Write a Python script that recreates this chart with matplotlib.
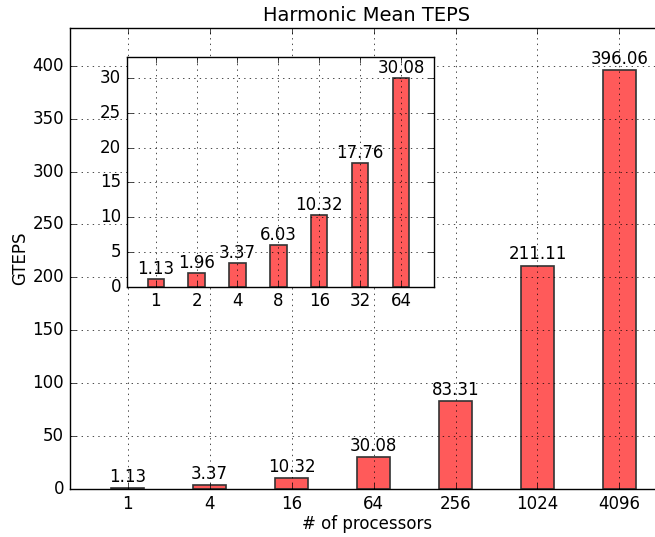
import numpy as np
import matplotlib
matplotlib.use("Agg")
import matplotlib.pyplot as plt

plt.style.use("classic")

# data
procs_main = ["1", "4", "16", "64", "256", "1024", "4096"]
teps_main = [1.13, 3.37, 10.32, 30.08, 83.31, 211.11, 396.06]

procs_inset = ["1", "2", "4", "8", "16", "32", "64"]
teps_inset = [1.13, 1.96, 3.37, 6.03, 10.32, 17.76, 30.08]

bar_color = "#ff5a5a"
edge_color = "#333333"

fig = plt.figure(figsize=(6.55, 5.37), dpi=100)
fig.patch.set_facecolor("white")

# main axes (runs a bit past the right edge, like the original)
ax = fig.add_axes([69.5 / 655, 1 - 489 / 537, 595 / 655, 461 / 537])
x = np.arange(len(teps_main))
bars = ax.bar(x, teps_main, width=0.4, align="center", color=bar_color,
              edgecolor=edge_color, linewidth=1.2)
for b, v in zip(bars, teps_main):
    ax.text(b.get_x() + b.get_width() / 2, v + 2, "%.2f" % v,
            ha="center", va="bottom", fontsize=12)
ax.set_xticks(x)
ax.set_xticklabels(procs_main)
ax.set_xlim(-0.71, 6.55)
ax.set_ylim(0, max(teps_main) * 1.1)
ax.set_yticks(np.arange(0, 401, 50))
ax.grid(True, linestyle=":", color="black")
ax.set_xlabel("# of processors", fontsize=12, labelpad=2)
ax.set_ylabel("GTEPS", fontsize=12, labelpad=2)
ax.set_title("Harmonic Mean TEPS", fontsize=14, pad=5)
ax.tick_params(labelsize=12)

# inset with the smaller runs
ins = fig.add_axes([126.7 / 655, 1 - 286.7 / 537, 307 / 655, 230 / 537])
xi = np.arange(len(teps_inset))
bars = ins.bar(xi, teps_inset, width=0.4, align="center", color=bar_color,
               edgecolor=edge_color, linewidth=1.2)
for b, v in zip(bars, teps_inset):
    ins.text(b.get_x() + b.get_width() / 2, v + 0.15, "%.2f" % v,
             ha="center", va="bottom", fontsize=12)
ins.set_xticks(xi)
ins.set_xticklabels(procs_inset)
ins.set_xlim(-0.71, 6.8)
ins.set_ylim(0, max(teps_inset) * 1.1)
ins.set_yticks(np.arange(0, 31, 5))
ins.grid(True, linestyle=":", color="black")
ins.tick_params(labelsize=12)

fig.savefig("out.png", dpi=100, facecolor="white")
